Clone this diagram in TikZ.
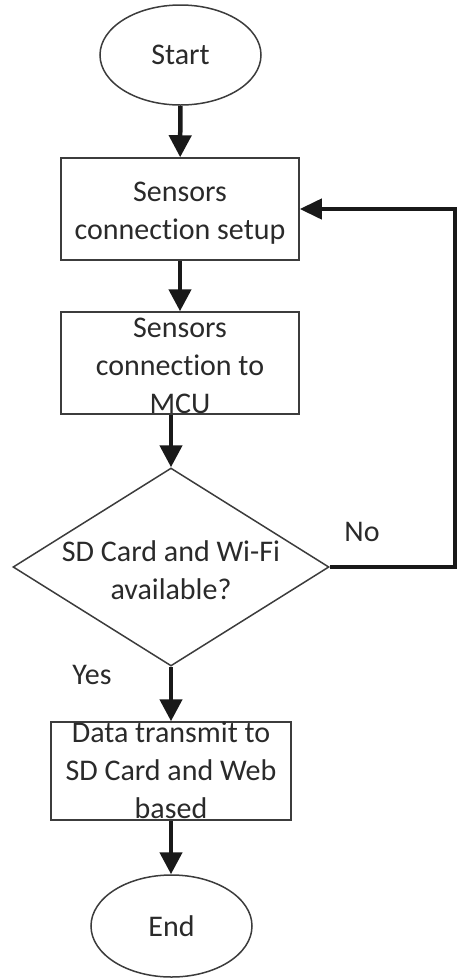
\documentclass[tikz,border=0pt]{standalone}
\usepackage{fontspec}
\setmainfont{Carlito}[Ligatures=NoCommon]
\usetikzlibrary{shapes.geometric,arrows.meta}
\definecolor{txt}{HTML}{2A2A2A}
\definecolor{edge}{HTML}{3C3C3C}
\tikzset{
  base/.style={draw=edge, line width=1.5pt, text=txt, inner sep=0pt, align=center, font=\fontsize{30}{38}\selectfont},
  term/.style={base, ellipse, minimum width=161pt, minimum height=100pt},
  emptybox/.style={draw=edge, line width=1.5pt, rectangle, inner sep=0pt, minimum width=238pt, minimum height=102pt},
  decshape/.style={draw=edge, line width=1.5pt, diamond, inner sep=0pt, minimum width=316pt, minimum height=198pt},
  plaintext/.style={text=txt, inner sep=0pt, align=center, font=\fontsize{30}{38}\selectfont},
  flow/.style={line width=4.5pt, draw=black!90, -{Triangle[width=22pt,length=22pt]}},
  loopline/.style={line width=4pt, draw=black!90, -{Triangle[width=20pt,length=22pt]}}
}
\begin{document}
\begin{tikzpicture}[x=1pt,y=-1pt]
\useasboundingbox (0,0) rectangle (458,978);
\node[term] (start) at (180.5,55) {Start};
\node[emptybox] (s1) at (180,209) {};
\node[plaintext] (s1text) at (180,213) {Sensors\\connection setup};
\node[emptybox] (s2) at (180,363) {};
\node[plaintext] (s2text) at (180,366) {Sensors\\connection to\\MCU};
\node[decshape] (dec) at (171,567) {};
\node[plaintext] (dectext) at (171,570) {SD Card and Wi-Fi\\available?};
\node[emptybox, minimum width=240pt, minimum height=98pt] (s3) at (171,771) {};
\node[plaintext] (s3text) at (171,770) {Data transmit to\\SD Card and Web\\based};
\node[term, minimum height=102pt] (end) at (171.5,926) {End};
\node[plaintext] (no) at (362,532) {No};
\node[plaintext] (yes) at (92,675) {Yes};
\coordinate (loopr) at (455,567);
\draw[flow] (start) -- (s1);
\draw[flow] (s1) -- (s2);
\draw[flow] (s2.south -| dec.north) -- (dec.north);
\draw[flow] (dec.south) -- (s3.north);
\draw[flow] (s3.south) -- (s3.south |- end.north);
\draw[loopline] (dec.east) -- (loopr) |- (s1.east);
\end{tikzpicture}
\end{document}
